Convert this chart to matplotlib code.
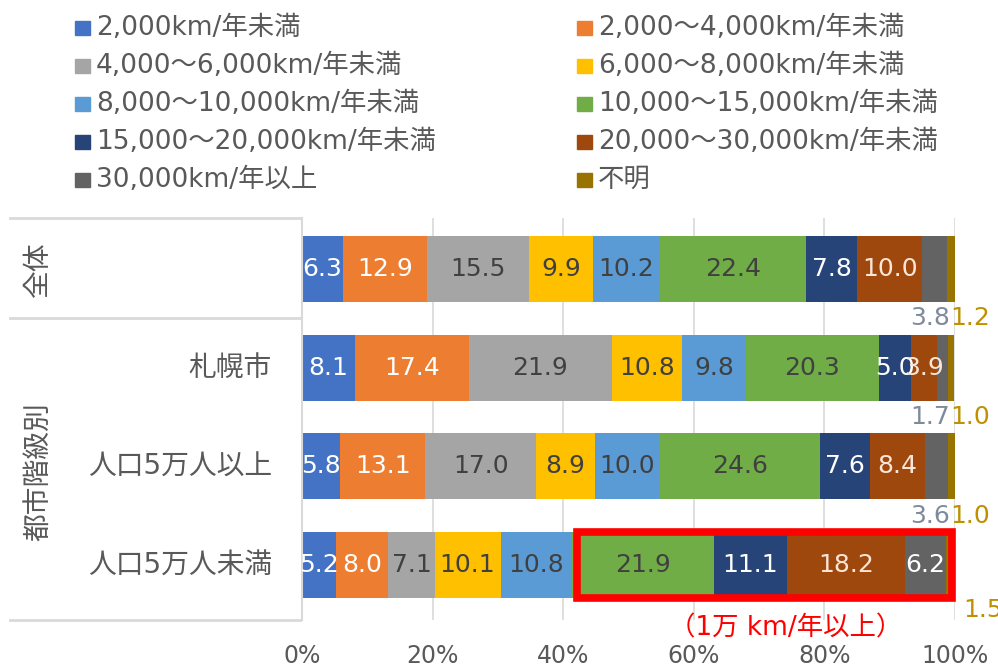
import matplotlib
matplotlib.use("Agg")
import matplotlib.pyplot as plt
from matplotlib.patches import Rectangle
from matplotlib.transforms import blended_transform_factory
import numpy as np

plt.rcParams['font.family'] = ['DejaVu Sans', 'Noto Sans CJK JP']

# distance driven per year, share (%) by region
series_names = [
    "2,000km/年未満", "2,000～4,000km/年未満",
    "4,000～6,000km/年未満", "6,000～8,000km/年未満",
    "8,000～10,000km/年未満", "10,000～15,000km/年未満",
    "15,000～20,000km/年未満", "20,000～30,000km/年未満",
    "30,000km/年以上", "不明",
]
categories = ["全体", "札幌市", "人口5万人以上", "人口5万人未満"]

zentai = [6.3, 12.9, 15.5, 9.9, 10.2, 22.4, 7.8, 10.0, 3.8, 1.2]
sapporo = [8.1, 17.4, 21.9, 10.8, 9.8, 20.3, 5.0, 3.9, 1.7, 1.0]
over_50k = [5.8, 13.1, 17.0, 8.9, 10.0, 24.6, 7.6, 8.4, 3.6, 1.0]
under_50k = [5.2, 8.0, 7.1, 10.1, 10.8, 21.9, 11.1, 18.2, 6.2, 1.5]

ticks = [0, 20, 40, 60, 80, 100]
tick_labels = ["0%", "20%", "40%", "60%", "80%", "100%"]

colors = ["#4472C4", "#ED7D31", "#A5A5A5", "#FFC000", "#5B9BD5",
          "#70AD47", "#264478", "#9E480E", "#636363", "#997300"]
text_colors = ["white", "white", "#404040", "#404040", "#404040",
               "#404040", "white", "#FBE5D6", "white", "white"]
outside_colors = {8: "#7F8B9B", 9: "#BF9000"}

data = np.array([zentai, sapporo, over_50k, under_50k])
W, H = 998, 671

fig = plt.figure(figsize=(W / 100, H / 100), dpi=100)
ax = fig.add_axes([302 / W, 1 - 620 / H, 653 / W, 402 / H])

y = np.arange(len(categories))
bar_h = 0.67
lefts = np.zeros(len(categories))
for j, name in enumerate(series_names):
    vals = data[:, j]
    ax.barh(y, vals, left=lefts, height=bar_h, color=colors[j], zorder=2)
    for i, v in enumerate(vals):
        if j >= 8 and v < 5:
            continue
        ax.text(lefts[i] + v / 2, y[i], f"{v:.1f}", ha="center", va="center",
                fontsize=18, color=text_colors[j], zorder=3)
    lefts += vals

# small shares printed under the bar end
for i in range(len(categories)):
    gray_out = data[i, 8] < 5
    if gray_out:
        ax.text(99.3, y[i] + 0.5, f"{data[i, 8]:.1f}", ha="right", va="center",
                fontsize=18, color=outside_colors[8], clip_on=False)
        ax.text(99.3, y[i] + 0.5, f"{data[i, 9]:.1f}", ha="left", va="center",
                fontsize=18, color=outside_colors[9], clip_on=False)
    else:
        ax.text(101.2, y[i] + 0.46, f"{data[i, 9]:.1f}", ha="left", va="center",
                fontsize=18, color=outside_colors[9], clip_on=False)

# highlight 10,000km and more for the small towns
start = data[3, :5].sum() + 0.9
box = Rectangle((start, y[3] - bar_h / 2), 99.6 - start, bar_h,
                fill=False, edgecolor="#FF0000", linewidth=5.5, zorder=4,
                clip_on=False)
ax.add_patch(box)
ax.text(74.0, y[3] + 0.64, "（1万 km/年以上）",
        ha="center", va="center", fontsize=19, color="#FF0000", clip_on=False)

ax.set_xlim(0, 100)
ax.set_ylim(3.557, -0.517)
ax.set_xticks(ticks)
ax.set_xticklabels(tick_labels, fontsize=17, color="#595959")
ax.tick_params(axis="x", length=0, pad=17)
ax.set_yticks(y)
ax.set_yticklabels([])
ax.tick_params(axis="y", length=0)
ax.grid(axis="x", color="#D9D9D9", linewidth=1.2, zorder=0)
for side in ["top", "right", "bottom"]:
    ax.spines[side].set_visible(False)
ax.spines["left"].set_color("#D9D9D9")
ax.spines["left"].set_linewidth(1.5)

# category labels and group table on the left
row_tf = blended_transform_factory(fig.transFigure, ax.transData)
for i, cat in enumerate(categories[1:], start=1):
    fig.text(272 / W, y[i], cat, transform=row_tf,
             ha="right", va="center", fontsize=20, color="#595959")
for yy in [-0.517, 0.5, 3.557]:
    ax.plot([10 / W, 300 / W], [yy, yy], transform=row_tf, color="#D9D9D9",
            linewidth=2, clip_on=False)
fig.text(38 / W, y[0], categories[0], transform=row_tf,
         rotation=90, ha="center", va="center", fontsize=20, color="#595959")
fig.text(38 / W, 2.05, "都市階級別", transform=row_tf,
         rotation=90, ha="center", va="center", fontsize=20, color="#595959")

# legend, two columns filled row by row
for j, name in enumerate(series_names):
    row, col = j // 2, j % 2
    x0 = [75, 577][col]
    yc = 28 + 38 * row
    fig.add_artist(Rectangle((x0 / W, 1 - (yc + 7) / H), 15 / W, 14 / H,
                             transform=fig.transFigure, color=colors[j]))
    fig.text((x0 + 21) / W, 1 - yc / H, name, ha="left", va="center",
             fontsize=19, color="#595959")

fig.savefig("out.png", dpi=100)
